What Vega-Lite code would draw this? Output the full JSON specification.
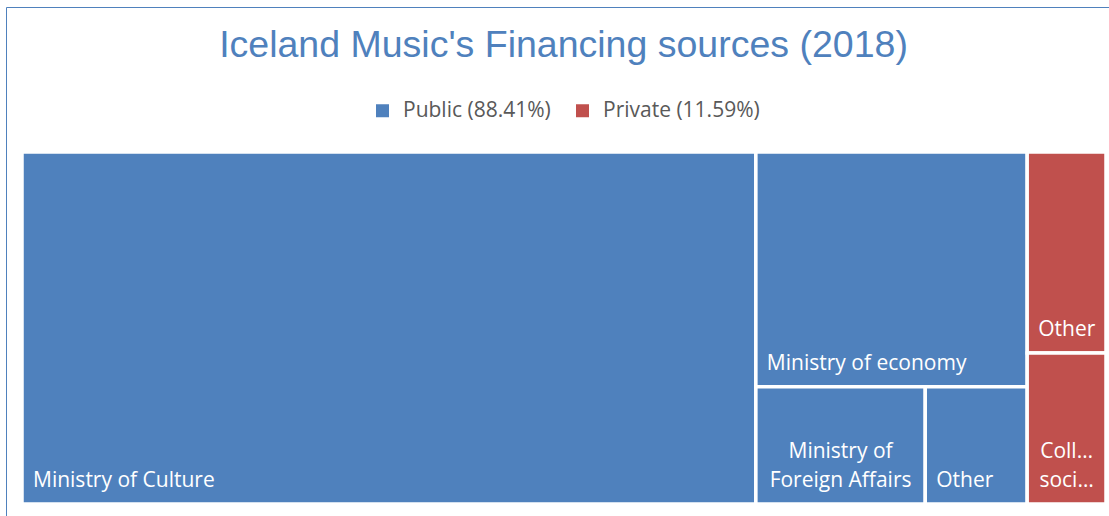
{
  "$schema": "https://vega.github.io/schema/vega-lite/v6.json",
  "autosize": {"type": "none"},
  "width": 1111,
  "height": 517,
  "padding": {"left": 6, "top": 7, "right": -8, "bottom": -8},
  "background": "white",
  "config": {"view": {"stroke": "#4f81bd", "strokeWidth": 1}},
  "title": {
    "text": "Iceland Music's Financing sources (2018)",
    "font": "Liberation Sans",
    "fontSize": 37.5,
    "fontWeight": "normal",
    "color": "#4f81bd",
    "anchor": "middle",
    "baseline": "alphabetic",
    "offset": -50,
    "dx": 2,
    "dy": 37
  },
  "data": {
    "values": [
      {"label": "Ministry of Culture", "group": "Public (88.41%)", "col": 1, "row": 1, "ord": 1, "value": 67.7},
      {"label": "Ministry of economy", "group": "Public (88.41%)", "col": 2, "row": 1, "ord": 1, "value": 16.7},
      {"label": "Ministry of\nForeign Affairs", "group": "Public (88.41%)", "col": 2, "row": 2, "ord": 1, "value": 5.2},
      {"label": "Other", "group": "Public (88.41%)", "col": 2, "row": 2, "ord": 2, "value": 3.13},
      {"label": "Other", "group": "Private (11.59%)", "col": 3, "row": 1, "ord": 1, "value": 4.15},
      {"label": "Coll…\nsoci…", "group": "Private (11.59%)", "col": 3, "row": 2, "ord": 1, "value": 3.12}
    ]
  },
  "transform": [
    {"joinaggregate": [{"op": "sum", "field": "value", "as": "total"}]},
    {"joinaggregate": [{"op": "sum", "field": "value", "as": "colSum"}], "groupby": ["col"]},
    {"joinaggregate": [{"op": "sum", "field": "value", "as": "rowSum"}], "groupby": ["col", "row"]},
    {"window": [{"op": "sum", "field": "value", "as": "colEnd"}], "sort": [{"field": "col"}], "frame": [null, 0]},
    {"window": [{"op": "sum", "field": "value", "as": "rowEnd"}], "groupby": ["col"], "sort": [{"field": "row"}], "frame": [null, 0]},
    {"window": [{"op": "sum", "field": "value", "as": "cellEnd"}], "groupby": ["col", "row"], "sort": [{"field": "ord"}], "frame": [null, 0]},
    {"calculate": "(datum.colEnd - datum.colSum + datum.colSum * (datum.cellEnd - datum.value) / datum.rowSum) / datum.total", "as": "x0"},
    {"calculate": "(datum.colEnd - datum.colSum + datum.colSum * datum.cellEnd / datum.rowSum) / datum.total", "as": "x1"},
    {"calculate": "(datum.rowEnd - datum.rowSum) / datum.colSum", "as": "y0"},
    {"calculate": "datum.rowEnd / datum.colSum", "as": "y1"},
    {"calculate": "(datum.x0 + datum.x1) / 2", "as": "xm"}
  ],
  "layer": [
    {
      "mark": {"type": "rect", "stroke": "white", "strokeWidth": 3.5},
      "encoding": {
        "x": {"field": "x0", "type": "quantitative", "scale": {"domain": [0, 1], "range": [16, 1100]}, "axis": null},
        "x2": {"field": "x1"},
        "y": {"field": "y0", "type": "quantitative", "scale": {"domain": [0, 1], "range": [145, 497]}, "axis": null},
        "y2": {"field": "y1"},
        "color": {
          "field": "group",
          "type": "nominal",
          "scale": {"domain": ["Public (88.41%)", "Private (11.59%)"], "range": ["#4f81bd", "#c0504d"]},
          "legend": {
            "orient": "none",
            "legendX": 366,
            "legendY": 93,
            "direction": "horizontal",
            "title": null,
            "padding": 0,
            "symbolType": "square",
            "symbolSize": 169,
            "symbolStrokeWidth": 0,
            "symbolOpacity": 1,
            "labelFont": "Open Sans",
            "labelFontSize": 21,
            "labelColor": "#595959",
            "labelOffset": 10,
            "columnPadding": 21
          }
        }
      }
    },
    {
      "transform": [{"filter": "indexof(datum.label, '\\n') < 0"}],
      "mark": {"type": "text", "align": "left", "baseline": "bottom", "dx": 11, "dy": -13, "font": "Open Sans", "fontSize": 21, "color": "white"},
      "encoding": {
        "x": {"field": "x0", "type": "quantitative"},
        "y": {"field": "y1", "type": "quantitative"},
        "text": {"field": "label", "type": "nominal"}
      }
    },
    {
      "transform": [{"filter": "indexof(datum.label, '\\n') >= 0"}],
      "mark": {"type": "text", "align": "center", "baseline": "bottom", "lineBreak": "\n", "lineHeight": 29.5, "dy": -42.5, "font": "Open Sans", "fontSize": 21, "color": "white"},
      "encoding": {
        "x": {"field": "xm", "type": "quantitative"},
        "y": {"field": "y1", "type": "quantitative"},
        "text": {"field": "label", "type": "nominal"}
      }
    }
  ]
}
